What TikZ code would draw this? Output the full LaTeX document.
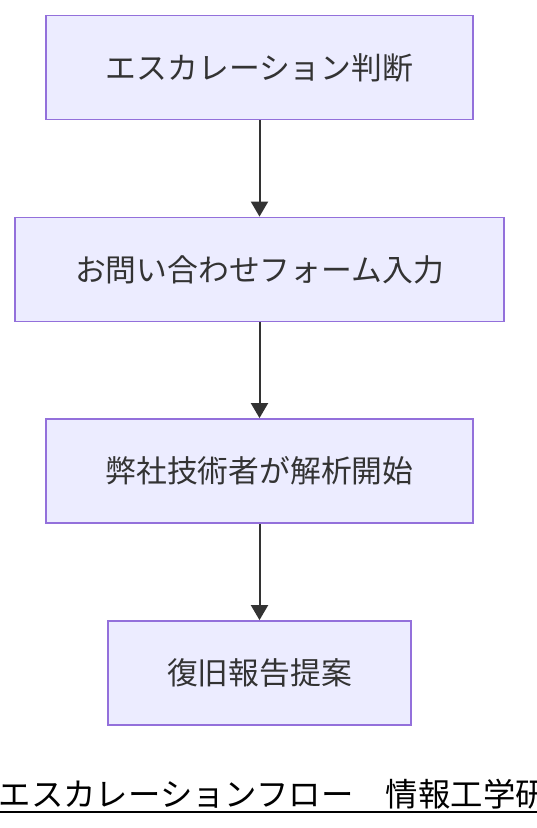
\documentclass[tikz,border=0pt]{standalone}
\usepackage{fontspec}
\setmainfont{Noto Sans CJK JP}
\usetikzlibrary{arrows.meta}
\definecolor{boxfill}{HTML}{ECECFF}
\definecolor{boxline}{HTML}{9370DB}
\definecolor{ink}{HTML}{333333}
\tikzset{
  flowbox/.style={draw=boxline, fill=boxfill, line width=1.8pt, text=ink,
    font=\fontsize{30.8}{36}\selectfont, inner sep=0pt, minimum height=104pt},
  flowarrow/.style={draw=ink, line width=2pt, -{Triangle[length=15pt,width=17pt]}}
}
\begin{document}
\begin{tikzpicture}[x=1pt,y=-1pt]
\useasboundingbox (0,0) rectangle (536,828);
\node[flowbox, minimum width=427pt] (b1) at (259.5,67.5) {エスカレーション判断};
\node[flowbox, minimum width=489pt] (b2) at (259.5,269.5) {お問い合わせフォーム入力};
\node[flowbox, minimum width=427pt] (b3) at (259.5,471) {弊社技術者が解析開始};
\node[flowbox, minimum width=303pt] (b4) at (259.5,673) {復旧報告提案};
\draw[flowarrow] (b1) -- (b2);
\draw[flowarrow] (b2) -- (b3);
\draw[flowarrow] (b3) -- (b4);
\node[anchor=base west, inner sep=0pt, font=\fontsize{32.4}{36}\selectfont] (title) at (-1.5,806) {エスカレーションフロー　情報工学研};
\draw[line width=1.6pt] ([yshift=-6pt]title.base west) -- ([yshift=-6pt]title.base east);
\end{tikzpicture}
\end{document}
